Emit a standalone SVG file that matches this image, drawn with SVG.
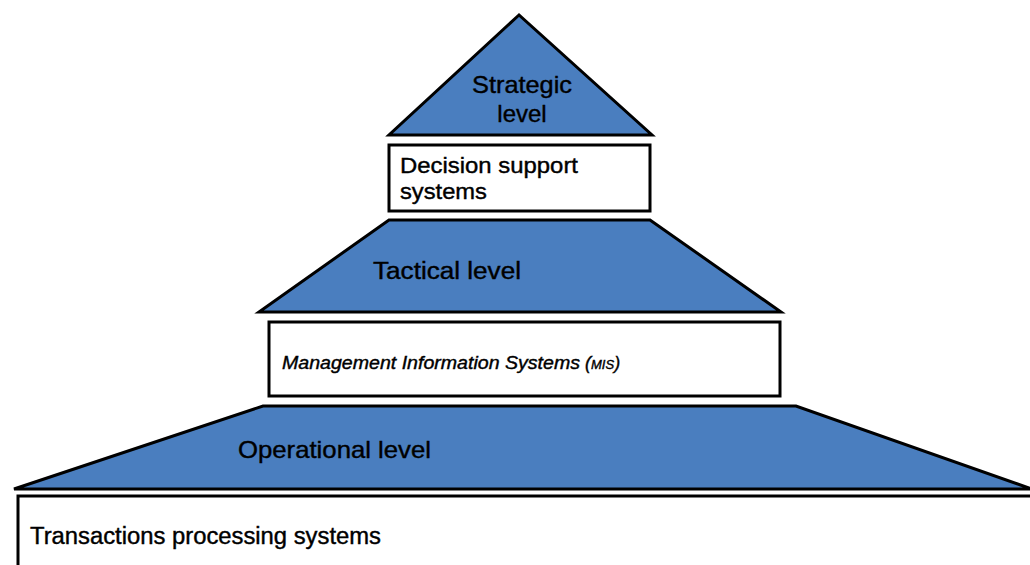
<svg xmlns="http://www.w3.org/2000/svg" width="1030" height="565" viewBox="0 0 1030 565">
<style>
.lvl{fill:#4a7ebf;stroke:#000;stroke-width:3;stroke-linejoin:miter}
.box{fill:#fff;stroke:#000;stroke-width:3}
.t{font-family:"Liberation Sans",Arial,sans-serif;fill:#000;stroke:#000;stroke-width:0.4}
</style>
<rect width="1030" height="565" fill="#fff"/>
<g id="strategic">
<polygon class="lvl" points="519,15 389,135 652,135"/>
<text class="t" x="522" y="93" font-size="24" text-anchor="middle" textLength="100" lengthAdjust="spacingAndGlyphs">Strategic</text>
<text class="t" x="522" y="122" font-size="24" text-anchor="middle">level</text>
</g>
<g id="dss">
<rect class="box" x="389" y="145" width="261" height="66"/>
<text class="t" x="400" y="173" font-size="22" stroke-width="0.7" textLength="178" lengthAdjust="spacingAndGlyphs">Decision support</text>
<text class="t" x="400" y="199" font-size="22" stroke-width="0.7" textLength="87" lengthAdjust="spacingAndGlyphs">systems</text>
</g>
<g id="tactical">
<polygon class="lvl" points="389,220 650,220 781,312 259,312"/>
<text class="t" x="373" y="279" font-size="23" textLength="148" lengthAdjust="spacingAndGlyphs">Tactical level</text>
</g>
<g id="mis">
<rect class="box" x="269" y="322" width="511" height="74"/>
<text class="t" x="282" y="369" font-size="18" font-style="italic" stroke-width="0.2"><tspan textLength="298" lengthAdjust="spacingAndGlyphs">Management Information Systems</tspan> (<tspan font-size="13">MIS</tspan>)</text>
</g>
<g id="operational">
<polygon class="lvl" points="263,406 796,406 1032,489 14,489"/>
<text class="t" x="238" y="458" font-size="24" textLength="193" lengthAdjust="spacingAndGlyphs">Operational level</text>
</g>
<g id="tps">
<rect class="box" x="18" y="496" width="1020" height="80"/>
<text class="t" x="30" y="544" font-size="23" textLength="351" lengthAdjust="spacingAndGlyphs">Transactions processing systems</text>
</g>
<g id="connectors"></g>
</svg>
